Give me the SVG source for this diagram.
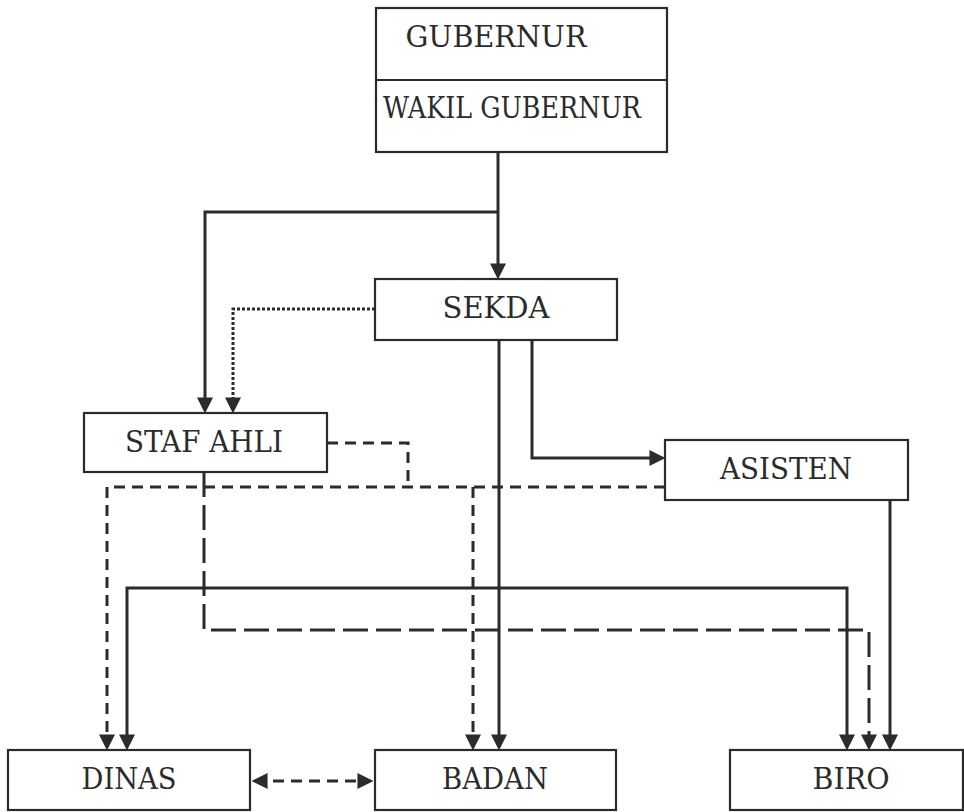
<svg xmlns="http://www.w3.org/2000/svg" width="964" height="812" viewBox="0 0 964 812">
<style>
.box{fill:#fff;stroke:#2b2b2b;stroke-width:2.2}
.lbl{font-family:"DejaVu Serif","Liberation Serif",serif;font-size:29px;fill:#2b2b2b;text-anchor:middle}
.ln{fill:none;stroke:#2b2b2b;stroke-width:3}
.dot{stroke-dasharray:3,2}
.sd{stroke-dasharray:11,7}
.ld{stroke-dasharray:25,8}
</style>
<defs>
<marker id="ah" markerUnits="userSpaceOnUse" markerWidth="16" markerHeight="16" viewBox="0 0 14 14" refX="11" refY="7" orient="auto">
<path d="M0,0 L14,7 L0,14 z" fill="#2b2b2b"/>
</marker>
<marker id="ahs" markerUnits="userSpaceOnUse" markerWidth="16" markerHeight="16" viewBox="0 0 14 14" refX="3" refY="7" orient="auto">
<path d="M14,0 L0,7 L14,14 z" fill="#2b2b2b"/>
</marker>
</defs>
<rect width="964" height="812" fill="#fff"/>
<g id="connectors">
<path class="ln" d="M498,152 V276" marker-end="url(#ah)"/>
<path class="ln" d="M498,212 H205 V410" marker-end="url(#ah)"/>
<path class="ln dot" d="M375,309 H233 V410" marker-end="url(#ah)"/>
<path class="ln" d="M532,340 V458 H662" marker-end="url(#ah)"/>
<path class="ln" d="M499,340 V747" marker-end="url(#ah)"/>
<path class="ln" d="M890,500 V747" marker-end="url(#ah)"/>
<path class="ln" d="M127,747 V588 H847 V747" marker-start="url(#ahs)" marker-end="url(#ah)"/>
<path class="ln sd" d="M327,443 H408 V487"/>
<path class="ln sd" d="M665,487 H107 V747" marker-end="url(#ah)"/>
<path class="ln sd" d="M473,487 V747" marker-end="url(#ah)"/>
<path class="ln ld" d="M204,472 V630 H869 V747" marker-end="url(#ah)"/>
<path class="ln sd" d="M255,781 H370" marker-start="url(#ahs)" marker-end="url(#ah)"/>
</g>
<g id="gubernur">
<rect class="box" x="376" y="8" width="291" height="144"/>
<line x1="376" y1="80" x2="667" y2="80" stroke="#2b2b2b" stroke-width="2.2"/>
<text class="lbl" x="496" y="47" textLength="181" lengthAdjust="spacingAndGlyphs">GUBERNUR</text>
<text class="lbl" x="512" y="118" textLength="258" lengthAdjust="spacingAndGlyphs">WAKIL GUBERNUR</text>
</g>
<g id="sekda">
<rect class="box" x="375" y="279" width="242" height="61"/>
<text class="lbl" x="496" y="318" textLength="107" lengthAdjust="spacingAndGlyphs">SEKDA</text>
</g>
<g id="staf-ahli">
<rect class="box" x="84" y="413" width="243" height="59"/>
<text class="lbl" x="204" y="452" textLength="158" lengthAdjust="spacingAndGlyphs">STAF AHLI</text>
</g>
<g id="asisten">
<rect class="box" x="665" y="440" width="243" height="60"/>
<text class="lbl" x="786" y="479" textLength="132" lengthAdjust="spacingAndGlyphs">ASISTEN</text>
</g>
<g id="dinas">
<rect class="box" x="8" y="750" width="242" height="60"/>
<text class="lbl" x="129" y="789" textLength="95" lengthAdjust="spacingAndGlyphs">DINAS</text>
</g>
<g id="badan">
<rect class="box" x="375" y="750" width="241" height="60"/>
<text class="lbl" x="495" y="789" textLength="106" lengthAdjust="spacingAndGlyphs">BADAN</text>
</g>
<g id="biro">
<rect class="box" x="730" y="750" width="233" height="60"/>
<text class="lbl" x="851" y="789" textLength="77" lengthAdjust="spacingAndGlyphs">BIRO</text>
</g>
</svg>
